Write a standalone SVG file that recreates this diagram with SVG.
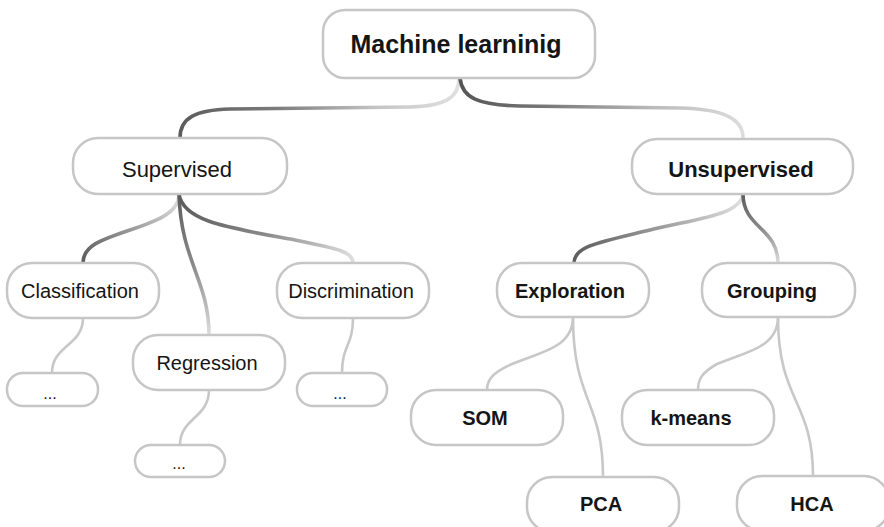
<svg xmlns="http://www.w3.org/2000/svg" width="884" height="527" viewBox="0 0 884 527">
<style>
.box{fill:#ffffff;stroke:#c6c6c6;stroke-width:2.5}
.t{font-family:"Liberation Sans",Arial,sans-serif;fill:#151515;text-anchor:middle}
.b{font-weight:bold}
.main{fill:none;stroke-width:3.6;stroke-linecap:round}
.sub{fill:none;stroke:#c8c8c8;stroke-width:2.6}
</style>
<defs>
<linearGradient id="g1" gradientUnits="userSpaceOnUse" x1="459" y1="0" x2="180" y2="0">
<stop offset="0" stop-color="#e0e0e0"/><stop offset="0.3" stop-color="#c4c4c4"/><stop offset="0.65" stop-color="#7c7c7c"/><stop offset="1" stop-color="#5c5c5c"/>
</linearGradient>
<linearGradient id="g2" gradientUnits="userSpaceOnUse" x1="459" y1="0" x2="743" y2="0">
<stop offset="0" stop-color="#555555"/><stop offset="0.3" stop-color="#777777"/><stop offset="0.7" stop-color="#bdbdbd"/><stop offset="1" stop-color="#dcdcdc"/>
</linearGradient>
<linearGradient id="g3" gradientUnits="userSpaceOnUse" x1="179" y1="194" x2="83" y2="263">
<stop offset="0" stop-color="#e0e0e0"/><stop offset="0.5" stop-color="#9a9a9a"/><stop offset="1" stop-color="#5c5c5c"/>
</linearGradient>
<linearGradient id="g4" gradientUnits="userSpaceOnUse" x1="0" y1="194" x2="0" y2="335">
<stop offset="0" stop-color="#5c5c5c"/><stop offset="0.5" stop-color="#8a8a8a"/><stop offset="1" stop-color="#dddddd"/>
</linearGradient>
<linearGradient id="g5" gradientUnits="userSpaceOnUse" x1="179" y1="0" x2="353" y2="0">
<stop offset="0" stop-color="#5c5c5c"/><stop offset="0.5" stop-color="#8a8a8a"/><stop offset="1" stop-color="#dddddd"/>
</linearGradient>
<linearGradient id="g6" gradientUnits="userSpaceOnUse" x1="743" y1="0" x2="573" y2="0">
<stop offset="0" stop-color="#e0e0e0"/><stop offset="0.5" stop-color="#9a9a9a"/><stop offset="1" stop-color="#5c5c5c"/>
</linearGradient>
<linearGradient id="g7" gradientUnits="userSpaceOnUse" x1="0" y1="194" x2="0" y2="263">
<stop offset="0" stop-color="#5c5c5c"/><stop offset="0.5" stop-color="#8a8a8a"/><stop offset="1" stop-color="#dddddd"/>
</linearGradient>
</defs>

<g id="connectors">
<path class="main" stroke="url(#g1)" d="M459,78 C459,98 445,106 410,107 L230,109 C195,110 180,118 180,138"/>
<path class="main" stroke="url(#g2)" d="M460,78 C462,98 478,105 520,106 L680,108 C722,109 743,118 743,138"/>
<path class="main" stroke="url(#g3)" d="M179,194 C179,212 160,220 130,230 C100,240 83,246 83,263"/>
<path class="main" stroke="url(#g4)" d="M179,194 C181,262 209,280 209,335"/>
<path class="main" stroke="url(#g5)" d="M179,194 C183,222 230,228 295,240 C340,249 353,252 353,263"/>
<path class="main" stroke="url(#g6)" d="M743,194 C740,215 700,218 650,230 C600,242 574,246 574,263"/>
<path class="main" stroke="url(#g7)" d="M743,194 C743,228 778,228 778,263"/>
<path class="sub" d="M83,318 C83,346 52,345 52,373"/>
<path class="sub" d="M209,390 C209,418 180,418 180,445"/>
<path class="sub" d="M353,318 C353,346 342,345 342,373"/>
<path class="sub" d="M573,317 C573,348 540,352 512,364 C492,373 487,380 487,390"/>
<path class="sub" d="M573,317 C573,402 603,400 603,477"/>
<path class="sub" d="M778,317 C778,348 745,352 717,364 C701,373 698,380 698,390"/>
<path class="sub" d="M778,317 C778,402 813,400 813,476"/>
</g>

<g id="root"><rect class="box" x="323" y="10" width="272" height="68" rx="22"/><text class="t b" x="456" y="53" font-size="25">Machine learninig</text></g>
<g id="supervised"><rect class="box" x="73" y="138" width="214" height="56" rx="25"/><text class="t" x="177" y="177" font-size="22">Supervised</text></g>
<g id="unsupervised"><rect class="box" x="632" y="139" width="221" height="55" rx="25"/><text class="t b" x="741" y="177" font-size="22">Unsupervised</text></g>
<g id="classification"><rect class="box" x="7" y="263" width="152" height="55" rx="25"/><text class="t" x="80" y="298" font-size="20">Classification</text></g>
<g id="regression"><rect class="box" x="133" y="335" width="152" height="55" rx="25"/><text class="t" x="207" y="370" font-size="20">Regression</text></g>
<g id="discrimination"><rect class="box" x="277" y="263" width="152" height="55" rx="25"/><text class="t" x="351" y="298" font-size="20">Discrimination</text></g>
<g id="exploration"><rect class="box" x="497" y="263" width="152" height="54" rx="25"/><text class="t b" x="570" y="298" font-size="20">Exploration</text></g>
<g id="grouping"><rect class="box" x="702" y="263" width="153" height="54" rx="25"/><text class="t b" x="772" y="298" font-size="20">Grouping</text></g>
<g id="dots1"><rect class="box" x="7" y="373" width="91" height="33" rx="16"/><text class="t" x="50" y="399" font-size="16">...</text></g>
<g id="dots2"><rect class="box" x="135" y="445" width="90" height="32" rx="16"/><text class="t" x="179" y="469" font-size="16">...</text></g>
<g id="dots3"><rect class="box" x="297" y="373" width="90" height="33" rx="16"/><text class="t" x="340" y="399" font-size="16">...</text></g>
<g id="som"><rect class="box" x="411" y="390" width="152" height="55" rx="25"/><text class="t b" x="485" y="425" font-size="20">SOM</text></g>
<g id="kmeans"><rect class="box" x="622" y="390" width="152" height="55" rx="25"/><text class="t b" x="691" y="425" font-size="20">k-means</text></g>
<g id="pca"><rect class="box" x="527" y="477" width="152" height="55" rx="25"/><text class="t b" x="601" y="511" font-size="20">PCA</text></g>
<g id="hca"><rect class="box" x="737" y="476" width="152" height="55" rx="25"/><text class="t b" x="812" y="511" font-size="20">HCA</text></g>
</svg>
